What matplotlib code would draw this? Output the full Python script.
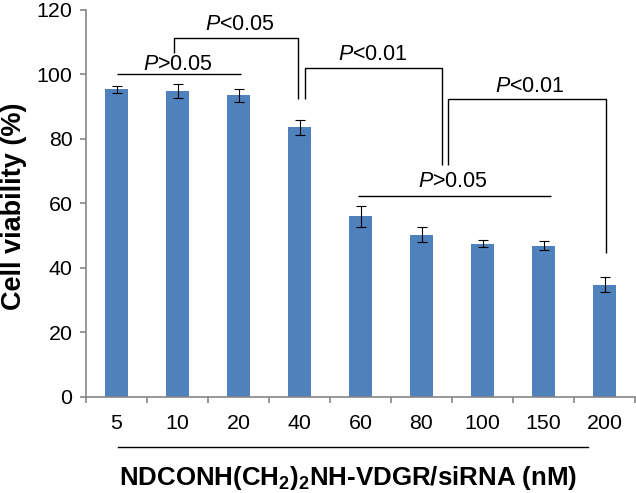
import matplotlib
matplotlib.use("Agg")
import matplotlib.pyplot as plt
import matplotlib.transforms as mtransforms
import numpy as np

plt.rcParams["font.family"] = ["Liberation Sans", "DejaVu Sans"]
plt.rcParams["mathtext.fontset"] = "custom"
plt.rcParams["mathtext.rm"] = "Liberation Sans"
plt.rcParams["mathtext.it"] = "Liberation Sans:italic"
plt.rcParams["mathtext.bf"] = "Liberation Sans:bold"

# %% Data
concentrations = ["5", "10", "20", "40", "60", "80", "100", "150", "200"]
viability = [95.3, 94.7, 93.5, 83.5, 56.0, 50.3, 47.4, 46.8, 34.8]
viability_err = [1.1, 2.2, 2.0, 2.3, 3.3, 2.2, 1.1, 1.4, 2.3]

# significance marks: (x of text, y of text baseline, text)
sig_labels = [
    (1.0, 101.4, "$P$>0.05"),
    (2.02, 113.6, "$P$<0.05"),
    (4.2, 104.4, "$P$<0.01"),
    (6.78, 94.4, "$P$<0.01"),
    (5.52, 64.9, "$P$>0.05"),
]
# brackets as polylines in data coordinates (x index, y value)
sig_lines = [
    ([0.0, 2.04], [100.0, 100.0]),
    ([0.95, 0.95, 2.98, 2.98], [106.5, 111.3, 111.3, 92.3]),
    ([3.09, 3.09, 5.34, 5.34], [92.4, 101.9, 101.9, 71.8]),
    ([5.44, 5.44, 8.02, 8.02], [71.8, 92.2, 92.2, 44.5]),
    ([3.96, 7.12], [62.2, 62.2]),
]

bar_color = "#4F81BD"
axis_color = "#868686"

fig = plt.figure(figsize=(6.36, 4.93), dpi=100)
ax = fig.add_axes([86 / 636, 1 - 397 / 493, 549 / 636, 387.5 / 493])

x = np.arange(len(concentrations))
ax.bar(x, viability, width=0.38, color=bar_color, zorder=2)
ax.errorbar(x, viability, yerr=viability_err, fmt="none", ecolor="black",
            elinewidth=0.8, capsize=3.6, capthick=0.8, zorder=3)

for xs, ys in sig_lines:
    ax.plot(xs, ys, color="black", lw=1.0, solid_capstyle="butt", clip_on=False)
for tx, ty, s in sig_labels:
    ax.text(tx, ty, s, ha="center", va="baseline", fontsize=15.5)

ax.set_xlim(-0.5, len(concentrations) - 0.5)
ax.set_ylim(0, 120)
ax.set_yticks(np.arange(0, 121, 20))
ax.set_xticks(x)
ax.set_xticklabels(concentrations)
ax.set_xticks(np.arange(-0.5, len(concentrations), 1.0), minor=True)

for side in ["top", "right"]:
    ax.spines[side].set_visible(False)
for side in ["left", "bottom"]:
    ax.spines[side].set_color(axis_color)
    ax.spines[side].set_linewidth(1.2)

ax.tick_params(axis="x", which="major", length=0, pad=12, labelsize=15.4)
ax.tick_params(axis="x", which="minor", length=4, width=1.2, color=axis_color)
ax.tick_params(axis="y", length=4.3, width=1.2, color=axis_color, pad=5.5,
               labelsize=15.4)

ax.set_ylabel("Cell viability (%)", fontsize=19.5, fontweight="bold")
ax.yaxis.set_label_coords(-0.131, 0.491)
ax.yaxis.label.set_va("center")

# line above the x axis title
trans = mtransforms.blended_transform_factory(ax.transData, ax.transAxes)
ax.plot([0.02, 7.73], [-0.128, -0.128], color="black", lw=1.0,
        transform=trans, clip_on=False)
ax.set_xlabel(r"NDCONH(CH$_\mathbf{2}$)$_\mathbf{2}$NH-VDGR/siRNA (nM)",
              fontsize=18.6, fontweight="bold")
ax.xaxis.set_label_coords(0.477, -0.172)
ax.xaxis.label.set_va("top")

fig.savefig("out.png", dpi=100)
